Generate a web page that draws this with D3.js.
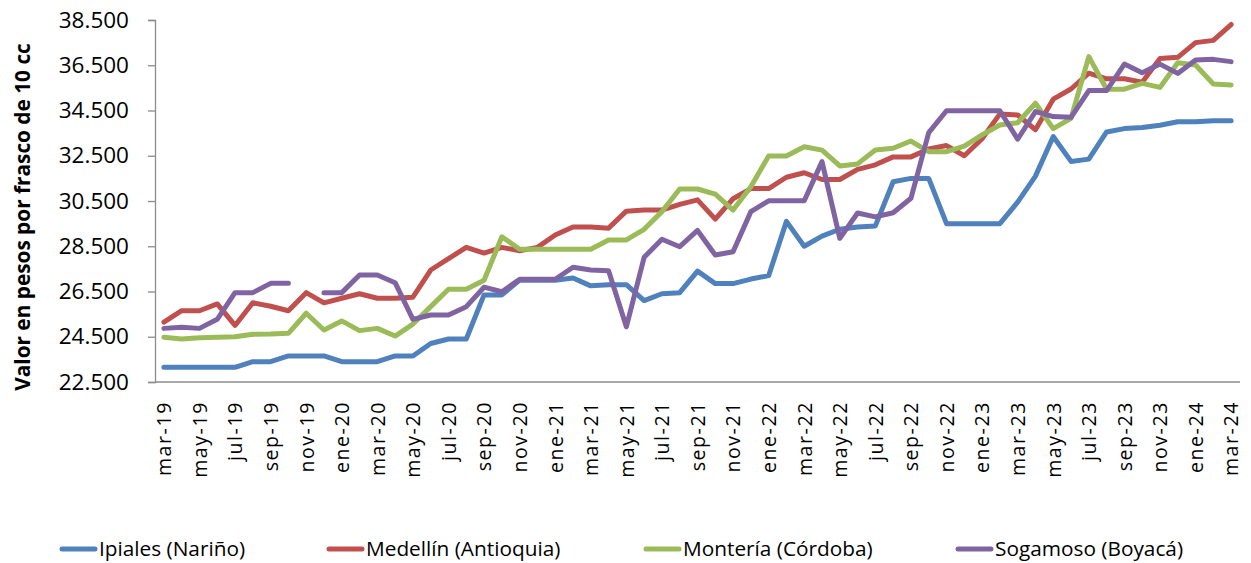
<!DOCTYPE html>
<html>
<head>
<meta charset="utf-8">
<script src="https://cdn.jsdelivr.net/npm/d3@7/dist/d3.min.js"></script>
<style>
  html, body { margin: 0; padding: 0; background: #ffffff; }
  svg { display: block; }
  text { font-family: "Open Sans", "Noto Sans", sans-serif; fill: #000; }
</style>
</head>
<body>
<svg id="chart" width="1251" height="563"></svg>
<script>
// Monthly categories, mar-19 .. mar-24
const months = [
  "mar-19","abr-19","may-19","jun-19","jul-19","ago-19","sep-19","oct-19","nov-19","dic-19",
  "ene-20","feb-20","mar-20","abr-20","may-20","jun-20","jul-20","ago-20","sep-20","oct-20","nov-20","dic-20",
  "ene-21","feb-21","mar-21","abr-21","may-21","jun-21","jul-21","ago-21","sep-21","oct-21","nov-21","dic-21",
  "ene-22","feb-22","mar-22","abr-22","may-22","jun-22","jul-22","ago-22","sep-22","oct-22","nov-22","dic-22",
  "ene-23","feb-23","mar-23","abr-23","may-23","jun-23","jul-23","ago-23","sep-23","oct-23","nov-23","dic-23",
  "ene-24","feb-24","mar-24"
];

// Price per 10 cc vial (pesos)
const ipiales = [
  23150,23150,23150,23150,23150,23400,23400,23650,23650,23650,
  23400,23400,23400,23650,23650,24200,24400,24400,26350,26350,27000,27000,
  27000,27100,26750,26800,26800,26100,26400,26450,27400,26850,26850,27050,
  27200,29600,28500,28950,29250,29350,29400,31350,31500,31500,29500,29500,
  29500,29500,30450,31600,33350,32250,32350,33550,33700,33750,33850,34000,
  34000,34050,34050
];
const medellin = [
  25150,25650,25650,25950,25000,26000,25850,25650,26450,26000,
  26200,26400,26200,26200,26250,27450,27950,28450,28200,28450,28300,28450,
  29000,29350,29350,29300,30050,30100,30100,30350,30550,29700,30600,31050,
  31050,31550,31750,31450,31450,31900,32100,32450,32450,32800,32950,32500,
  33250,34350,34300,33650,35000,35450,36150,35900,35900,35750,36800,36850,
  37500,37600,38300
];
const monteria = [
  24480,24400,24460,24480,24500,24610,24620,24650,25540,24800,
  25200,24770,24870,24530,25060,25830,26600,26600,27000,28920,28370,28370,
  28370,28370,28370,28780,28780,29250,30030,31030,31030,30800,30100,31130,
  32490,32490,32900,32750,32050,32140,32750,32830,33150,32680,32680,32930,
  33420,33860,33960,34820,33700,34150,36880,35440,35440,35700,35520,36610,
  36510,35670,35630
];
const sogamoso = [
  24870,24920,24870,25270,26450,26450,26860,26860,null,26450,
  26450,27230,27230,26890,25270,25460,25460,25830,26690,26490,27040,27040,
  27040,27570,27450,27420,24940,28010,28810,28480,29200,28110,28260,30030,
  30510,30510,30510,32240,28850,29970,29800,29980,30620,33520,34490,34490,
  34490,34490,33230,34450,34230,34200,35380,35380,36550,36170,36550,36140,
  36730,36760,36660
];

const seriesNames = ["Ipiales (Nariño)", "Medellín (Antioquia)", "Montería (Córdoba)", "Sogamoso (Boyacá)"];
const seriesColors = ["#4F81BD", "#C0504D", "#9BBB59", "#8064A2"];
const yTicks = [22500, 24500, 26500, 28500, 30500, 32500, 34500, 36500, 38500];
const tickMonths = months.filter((m, i) => i % 2 === 0);
const yTitle = "Valor en pesos por frasco de 10 cc";

const series = [ipiales, medellin, monteria, sogamoso];

const svg = d3.select("#chart");
const plot = { left: 155, right: 1240, top: 20, bottom: 382 };

const x = d3.scalePoint().domain(months).range([plot.left, plot.right]).padding(0.5);
const y = d3.scaleLinear().domain([22500, 38500]).range([plot.bottom, plot.top]);

const es = d3.formatLocale({ decimal: ",", thousands: ".", grouping: [3], currency: ["$", ""] });
const fmt = es.format(",.0f");

// Y axis
const yAxis = svg.append("g")
  .attr("transform", `translate(${plot.left},0)`)
  .call(d3.axisLeft(y).tickValues(yTicks).tickFormat(fmt).tickSize(7).tickPadding(19));
yAxis.select(".domain").attr("stroke", "#8c8c8c").attr("stroke-width", 1.3);
yAxis.selectAll(".tick line").attr("stroke", "#8c8c8c").attr("stroke-width", 1.3);
yAxis.selectAll(".tick text")
  .attr("font-size", 22.5)
  .attr("font-family", "\"Open Sans\", sans-serif")
  .attr("fill", "#000");

// X axis
const xAxis = svg.append("g")
  .attr("transform", `translate(0,${plot.bottom})`)
  .call(d3.axisBottom(x).tickValues(tickMonths).tickSize(0).tickPadding(0));
xAxis.select(".domain").attr("stroke", "#8c8c8c").attr("stroke-width", 1.3)
  .attr("d", `M${plot.left},0H${plot.right}`);
xAxis.selectAll(".tick text")
  .attr("font-size", 19.5)
  .attr("letter-spacing", "1.6px")
  .attr("font-family", "\"Open Sans\", sans-serif")
  .attr("fill", "#000")
  .attr("text-anchor", "end")
  .attr("transform", "rotate(-90)")
  .attr("x", -19)
  .attr("y", 0)
  .attr("dy", "0.35em");

// Y axis title
svg.append("text")
  .attr("transform", `translate(30,217) rotate(-90)`)
  .attr("text-anchor", "middle")
  .attr("font-size", 20.8)
  .attr("font-weight", "bold")
  .text(yTitle);

// Series lines
const line = d3.line()
  .defined(d => d != null)
  .x((d, i) => x(months[i]))
  .y(d => y(d));

series.forEach((vals, k) => {
  svg.append("path")
    .datum(vals)
    .attr("fill", "none")
    .attr("stroke", seriesColors[k])
    .attr("stroke-width", 5)
    .attr("stroke-linejoin", "round")
    .attr("stroke-linecap", "round")
    .attr("d", line);
});

// Legend
const legendX = [62, 329, 646, 958];
const legend = svg.append("g").attr("transform", "translate(0,549)");
seriesNames.forEach((name, k) => {
  const g = legend.append("g").attr("transform", `translate(${legendX[k]},0)`);
  g.append("line")
    .attr("x1", 0).attr("x2", 33).attr("y1", 0).attr("y2", 0)
    .attr("stroke", seriesColors[k]).attr("stroke-width", 5).attr("stroke-linecap", "round");
  g.append("text")
    .attr("x", 37).attr("y", 0).attr("dy", "0.35em")
    .attr("font-size", 20.8)
    .text(name);
});
</script>
</body>
</html>
